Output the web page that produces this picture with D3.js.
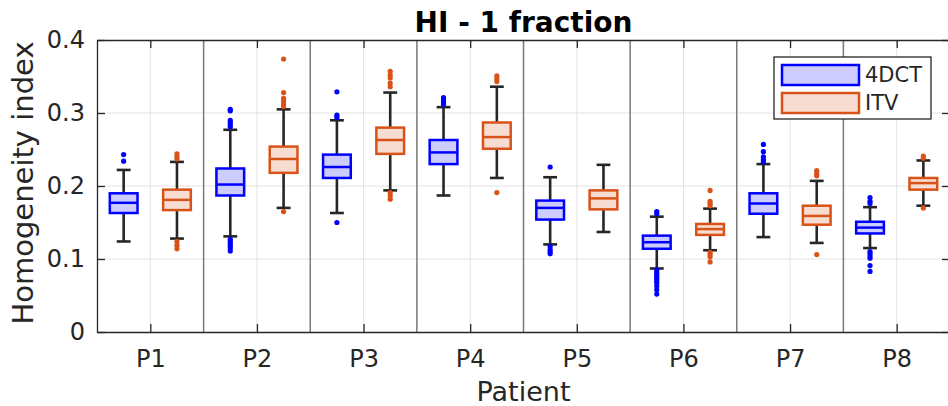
<!DOCTYPE html>
<html>
<head>
<meta charset="utf-8">
<script src="https://cdn.jsdelivr.net/npm/d3@7"></script>
<style>
  body { margin: 0; background: #fff; }
  svg { display: block; font-family: 'DejaVu Sans', sans-serif; }
</style>
</head>
<body>
<div id="chart"></div>
<script>
const patients = ['P1', 'P2', 'P3', 'P4', 'P5', 'P6', 'P7', 'P8'];
const seriesNames = ['4DCT', 'ITV'];
const yTicks = [0, 0.1, 0.2, 0.3, 0.4];

// 4DCT box stats
const ctLow = [0.124, 0.131, 0.163, 0.187, 0.120, 0.087, 0.130, 0.115];
const ctQ1 = [0.163, 0.187, 0.211, 0.230, 0.154, 0.114, 0.162, 0.135];
const ctMed = [0.177, 0.202, 0.226, 0.246, 0.170, 0.123, 0.176, 0.143];
const ctQ3 = [0.190, 0.224, 0.243, 0.263, 0.180, 0.132, 0.190, 0.151];
const ctHigh = [0.222, 0.277, 0.290, 0.308, 0.212, 0.158, 0.230, 0.171];
const ctOut = [
  [0.243, 0.234],
  [0.305, 0.303, 0.290, 0.287, 0.284, 0.281, 0.127, 0.124, 0.121, 0.118, 0.115, 0.111],
  [0.329, 0.297, 0.294, 0.150],
  [0.321, 0.318, 0.315, 0.312],
  [0.226, 0.117, 0.113, 0.110, 0.107],
  [0.165, 0.162, 0.085, 0.082, 0.079, 0.076, 0.073, 0.070, 0.067, 0.063, 0.058, 0.052],
  [0.257, 0.247, 0.240, 0.236, 0.233],
  [0.184, 0.179, 0.176, 0.110, 0.107, 0.104, 0.101, 0.091, 0.083],
];

// ITV box stats
const itvLow = [0.128, 0.170, 0.194, 0.211, 0.137, 0.112, 0.122, 0.173];
const itvQ1 = [0.167, 0.218, 0.244, 0.251, 0.168, 0.133, 0.147, 0.195];
const itvMed = [0.181, 0.237, 0.263, 0.267, 0.183, 0.141, 0.159, 0.204];
const itvQ3 = [0.195, 0.254, 0.280, 0.287, 0.194, 0.148, 0.173, 0.211];
const itvHigh = [0.233, 0.305, 0.328, 0.336, 0.229, 0.169, 0.207, 0.235];
const itvOut = [
  [0.244, 0.240, 0.237, 0.124, 0.119, 0.114],
  [0.374, 0.328, 0.320, 0.316, 0.312, 0.309, 0.165],
  [0.357, 0.352, 0.348, 0.341, 0.336, 0.191, 0.187, 0.182],
  [0.351, 0.347, 0.343, 0.191],
  [],
  [0.194, 0.179, 0.176, 0.173, 0.109, 0.106, 0.103, 0.096],
  [0.221, 0.217, 0.214, 0.106],
  [0.241, 0.238, 0.170],
];

const w = 948;
const h = 406;
const padLeft = 97;
const padRight = 950;
const padTop = 40;
const padBottom = 332;
const axisCol = '#262626';
const colors = ['#0000ff', '#d95319'];
const fills = ['#ccccff', '#f7ddd1'];

const boxes = [];
patients.forEach((p, i) => {
  boxes.push({ s: 0, pos: i + 1 - 0.25, lo: ctLow[i], q1: ctQ1[i], med: ctMed[i], q3: ctQ3[i], hi: ctHigh[i], out: ctOut[i] });
  boxes.push({ s: 1, pos: i + 1 + 0.25, lo: itvLow[i], q1: itvQ1[i], med: itvMed[i], q3: itvQ3[i], hi: itvHigh[i], out: itvOut[i] });
});

const xScale = d3.scaleLinear().domain([0.5, 8.5]).range([padLeft, padRight]);
const yScale = d3.scaleLinear().domain([0, 0.4]).range([padBottom, padTop]);

const svg = d3
  .select('#chart')
  .append('svg')
  .attr('width', w)
  .attr('height', h);

// grid
svg
  .append('g')
  .selectAll('line')
  .data(yTicks.slice(1, -1))
  .enter()
  .append('line')
  .attr('x1', padLeft)
  .attr('x2', padRight)
  .attr('y1', d => yScale(d))
  .attr('y2', d => yScale(d))
  .attr('stroke', '#e3e3e3')
  .attr('stroke-width', 1);

svg
  .append('g')
  .selectAll('line')
  .data(patients)
  .enter()
  .append('line')
  .attr('x1', (d, i) => xScale(i + 1))
  .attr('x2', (d, i) => xScale(i + 1))
  .attr('y1', padTop)
  .attr('y2', padBottom)
  .attr('stroke', '#e3e3e3')
  .attr('stroke-width', 1);

// patient separators
svg
  .append('g')
  .selectAll('line')
  .data(d3.range(1.5, 8.5, 1))
  .enter()
  .append('line')
  .attr('x1', d => xScale(d))
  .attr('x2', d => xScale(d))
  .attr('y1', padTop)
  .attr('y2', padBottom)
  .attr('stroke', '#7a7a7a')
  .attr('stroke-width', 1.5);

// boxes
const boxW = xScale(0.26) - xScale(0);
const capW = boxW / 2;

const g = svg
  .selectAll('g.box')
  .data(boxes)
  .enter()
  .append('g')
  .attr('class', 'box');

g.append('line')
  .attr('x1', d => xScale(d.pos))
  .attr('x2', d => xScale(d.pos))
  .attr('y1', d => yScale(d.hi))
  .attr('y2', d => yScale(d.lo))
  .attr('stroke', axisCol)
  .attr('stroke-width', 2.6);

g.selectAll('line.cap')
  .data(d => [{ pos: d.pos, v: d.lo }, { pos: d.pos, v: d.hi }])
  .enter()
  .append('line')
  .attr('class', 'cap')
  .attr('x1', d => xScale(d.pos) - capW / 2)
  .attr('x2', d => xScale(d.pos) + capW / 2)
  .attr('y1', d => yScale(d.v))
  .attr('y2', d => yScale(d.v))
  .attr('stroke', axisCol)
  .attr('stroke-width', 2.6);

g.append('rect')
  .attr('x', d => xScale(d.pos) - boxW / 2)
  .attr('y', d => yScale(d.q3))
  .attr('width', boxW)
  .attr('height', d => yScale(d.q1) - yScale(d.q3))
  .attr('fill', d => fills[d.s])
  .attr('stroke', d => colors[d.s])
  .attr('stroke-width', 2.5);

g.append('line')
  .attr('x1', d => xScale(d.pos) - boxW / 2)
  .attr('x2', d => xScale(d.pos) + boxW / 2)
  .attr('y1', d => yScale(d.med))
  .attr('y2', d => yScale(d.med))
  .attr('stroke', d => colors[d.s])
  .attr('stroke-width', 2.5);

g.selectAll('circle')
  .data(d => d.out.map(v => ({ pos: d.pos, v, s: d.s })))
  .enter()
  .append('circle')
  .attr('cx', d => xScale(d.pos))
  .attr('cy', d => yScale(d.v))
  .attr('r', 2.6)
  .attr('fill', d => colors[d.s]);

// axes
const yAxis = d3.axisLeft(yScale).tickValues(yTicks).tickSizeInner(-8).tickSizeOuter(0).tickPadding(12).tickFormat(d => d === 0 ? '0' : d3.format('.1f')(d));
const yAxisR = d3.axisRight(yScale).tickValues(yTicks).tickSizeInner(-8).tickSizeOuter(0).tickFormat('');
const xAxis = d3.axisBottom(xScale).tickValues(d3.range(1, 9)).tickSizeInner(-8).tickSizeOuter(0).tickPadding(18).tickFormat((d, i) => patients[i]);
const xAxisT = d3.axisTop(xScale).tickValues(d3.range(1, 9)).tickSizeInner(-8).tickSizeOuter(0).tickFormat('');

const axes = [
  svg.append('g').attr('transform', `translate(${padLeft},0)`).call(yAxis),
  svg.append('g').attr('transform', `translate(${padRight},0)`).call(yAxisR),
  svg.append('g').attr('transform', `translate(0,${padBottom})`).call(xAxis),
  svg.append('g').attr('transform', `translate(0,${padTop})`).call(xAxisT),
];
axes.forEach(a => {
  a.select('.domain').attr('stroke', axisCol).attr('stroke-width', 1.3);
  a.selectAll('.tick line').attr('stroke', axisCol).attr('stroke-width', 1.3);
  a.selectAll('.tick text')
    .attr('fill', axisCol)
    .attr('font-size', '24px')
    .attr('font-family', "'DejaVu Sans', sans-serif");
});

// titles
svg
  .append('text')
  .attr('x', (padLeft + padRight) / 2)
  .attr('y', 32)
  .attr('text-anchor', 'middle')
  .attr('font-size', '28px')
  .attr('font-weight', 'bold')
  .attr('fill', '#000')
  .text('HI - 1 fraction');

svg
  .append('text')
  .attr('x', (padLeft + padRight) / 2)
  .attr('y', 401)
  .attr('text-anchor', 'middle')
  .attr('font-size', '27px')
  .attr('fill', axisCol)
  .text('Patient');

svg
  .append('text')
  .attr('transform', `translate(33,${(padTop + padBottom) / 2 - 3}) rotate(-90)`)
  .attr('text-anchor', 'middle')
  .attr('font-size', '29px')
  .attr('fill', axisCol)
  .text('Homogeneity index');

// legend
const legend = svg.append('g').attr('transform', 'translate(774,57)');
legend
  .append('rect')
  .attr('width', 157)
  .attr('height', 62)
  .attr('fill', '#fff')
  .attr('stroke', axisCol)
  .attr('stroke-width', 1.3);

const items = legend
  .selectAll('g')
  .data(seriesNames)
  .enter()
  .append('g')
  .attr('transform', (d, i) => `translate(8,${8 + i * 28})`);

items
  .append('rect')
  .attr('width', 77)
  .attr('height', 20)
  .attr('fill', (d, i) => fills[i])
  .attr('stroke', (d, i) => colors[i])
  .attr('stroke-width', 2.5);

items
  .append('text')
  .attr('x', 83)
  .attr('y', 17)
  .attr('font-size', '21px')
  .attr('fill', axisCol)
  .text(d => d);
</script>
</body>
</html>
